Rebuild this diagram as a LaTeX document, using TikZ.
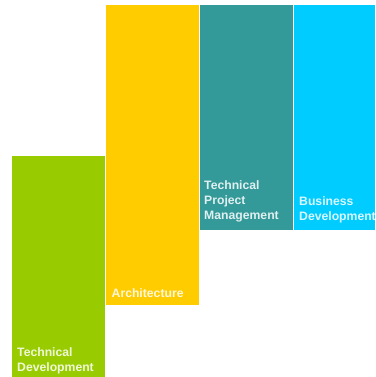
\documentclass[tikz,border=0pt]{standalone}
\usepackage{fontspec}
\setmainfont{Liberation Sans}
\definecolor{cgreen}{HTML}{99CC00}
\definecolor{cyellow}{HTML}{FFCC00}
\definecolor{cteal}{HTML}{339999}
\definecolor{cblue}{HTML}{00CCFF}
\begin{document}
\begin{tikzpicture}[x=1pt,y=-1pt,
  lbl/.style={anchor=north west,inner sep=0pt,align=left,text=white,text opacity=0.85,
    font=\bfseries\fontsize{12.2}{15.2}\selectfont}]
\useasboundingbox (0,0) rectangle (375,377);
\fill[cgreen] (12,156) rectangle (105,377);
\fill[cyellow] (106,5) rectangle (199,305);
\fill[cteal] (200,5) rectangle (293,230);
\fill[cblue] (294,5) rectangle (375,230);
\node[lbl] (td) at (17,347) {Technical\\Development};
\node[lbl] (ar) at (111.5,288) {Architecture};
\node[lbl] (tpm) at (204,180) {Technical\\Project\\Management};
\node[lbl] (bd) at (299,196) {Business\\Development};
\end{tikzpicture}
\end{document}
